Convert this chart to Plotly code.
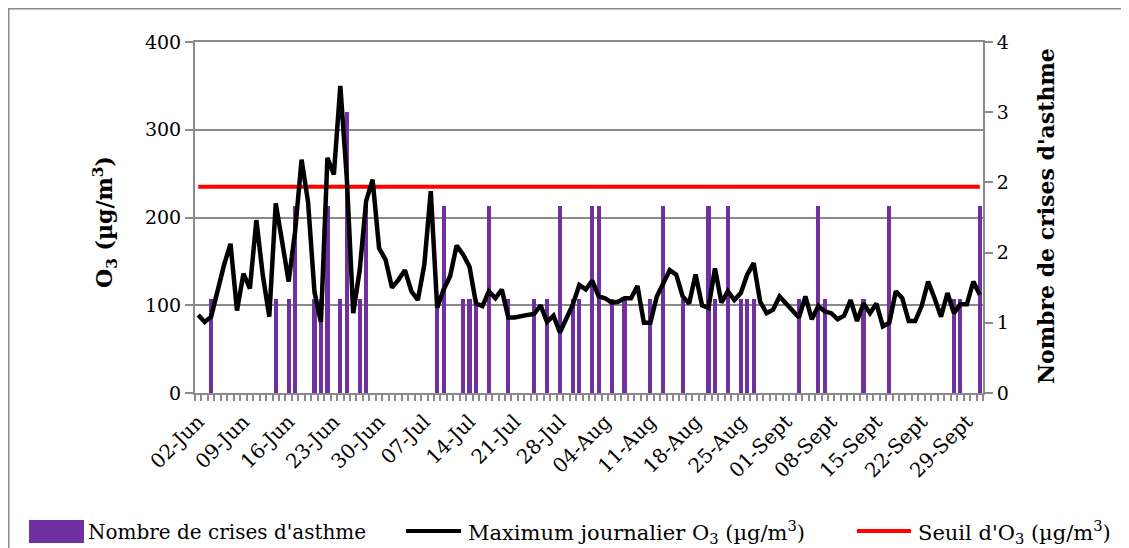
import plotly.graph_objects as go

# ---------------- data ----------------
TICK_LABELS = ['02-Jun', '09-Jun', '16-Jun', '23-Jun', '30-Jun', '07-Jul', '14-Jul',
               '21-Jul', '28-Jul', '04-Aug', '11-Aug', '18-Aug', '25-Aug', '01-Sept',
               '08-Sept', '15-Sept', '22-Sept', '29-Sept']
TICK_STEP = 7  # one label every 7 days

# Daily maximum O3 (µg/m3), 02-Jun .. 01-Oct
OZONE_MAX = [
    89, 81, 87, 119, 146, 170, 94, 136, 119, 197,
    134, 87, 216, 172, 127, 184, 266, 218, 115, 81,
    268, 249, 350, 245, 91, 140, 219, 243, 165, 152,
    120, 129, 140, 116, 106, 146, 230, 97, 118, 133,
    168, 158, 144, 102, 99, 116, 108, 118, 86, 86,
    88, 89, 90, 100, 81, 88, 69, 84, 101, 123,
    118, 128, 110, 108, 103, 104, 108, 108, 122, 80,
    80, 110, 125, 140, 135, 110, 102, 135, 100, 97,
    142, 103, 116, 106, 114, 135, 148, 104, 91, 95,
    110, 102, 93, 86, 110, 84, 99, 93, 91, 84,
    88, 106, 82, 102, 91, 102, 76, 80, 116, 108,
    82, 82, 99, 127, 108, 87, 114, 91, 101, 101,
    127, 112,
]

# Number of asthma attacks per day
CRISES = [
    0, 0, 1, 0, 0, 0, 0, 0, 0, 0,
    0, 0, 1, 0, 1, 2, 0, 0, 1, 1,
    2, 0, 1, 3, 0, 1, 2, 0, 0, 0,
    0, 0, 0, 0, 0, 0, 0, 1, 2, 0,
    0, 1, 1, 1, 0, 2, 0, 0, 1, 0,
    0, 0, 1, 0, 1, 0, 2, 0, 1, 1,
    0, 2, 2, 0, 1, 0, 1, 0, 0, 0,
    1, 0, 2, 0, 0, 1, 0, 0, 0, 2,
    1, 0, 2, 0, 1, 1, 1, 0, 0, 0,
    0, 0, 0, 1, 0, 0, 2, 1, 0, 0,
    0, 0, 0, 1, 0, 0, 0, 2, 0, 0,
    0, 0, 0, 0, 0, 0, 0, 1, 1, 0,
    0, 2,
]

THRESHOLD = 235  # Seuil d'O3 (µg/m3)

O3_TICKS = [0, 100, 200, 300, 400]
CRISES_MAX = 3.75
CRISES_TICKVALS = [0, 0.75, 1.5, 2.25, 3, 3.75]
CRISES_TICKTEXT = ['0', '1', '2', '2', '3', '4']

# ---------------- layout constants ----------------
W, H = 1129, 548
OFF = 8  # page body margin
# plot area in screen pixels
LS, RS, TS, BS = 195, 983, 42, 393
FONT = 'DejaVu Serif'
GRID = '#8a8a8a'
PURPLE = '#7030A0'


def px(x):
    return (x - LS) / (RS - LS)


def py(y):
    return (BS - y) / (BS - TS)


n = len(OZONE_MAX)
days = list(range(n))
threshold_series = [THRESHOLD] * n

fig = go.Figure()
fig.add_trace(go.Bar(
    x=days, y=CRISES, yaxis='y', width=0.65,
    marker=dict(color=PURPLE, line=dict(width=0)),
    name="Nombre de crises d'asthme",
))
fig.add_trace(go.Scatter(
    x=days, y=threshold_series, yaxis='y2', mode='lines',
    line=dict(color='#FF0000', width=4),
    name="Seuil d'O3 (µg/m3)",
))
fig.add_trace(go.Scatter(
    x=days, y=OZONE_MAX, yaxis='y2', mode='lines',
    line=dict(color='black', width=4.5),
    name='Maximum journalier O3 (µg/m3)',
))

o3_grid_in_crises = [v * CRISES_MAX / O3_TICKS[-1] for v in O3_TICKS[1:]]

fig.update_layout(
    width=W, height=H,
    margin=dict(l=LS - OFF, r=W - (RS - OFF), t=TS - OFF, b=H - (BS - OFF), pad=0),
    paper_bgcolor='white', plot_bgcolor='white',
    showlegend=False,
    bargap=0,
    font=dict(family=FONT, color='black'),
    xaxis=dict(
        range=[-0.5, n - 0.5],
        tickmode='array', tickvals=days[::TICK_STEP], ticktext=TICK_LABELS,
        tickangle=-45, ticks='', tickfont=dict(size=20, family=FONT),
        ticklabelstandoff=7,
        showline=True, linecolor=GRID, linewidth=2, mirror=True,
        showgrid=False, zeroline=False,
        minor=dict(tickmode='linear', tick0=-0.5, dtick=1, ticks='outside',
                   ticklen=6, tickwidth=2, tickcolor=GRID, showgrid=False),
    ),
    yaxis=dict(
        side='right', range=[0, CRISES_MAX],
        tickmode='array', tickvals=CRISES_TICKVALS, ticktext=CRISES_TICKTEXT,
        ticks='outside', ticklen=8, tickwidth=2, tickcolor=GRID,
        tickfont=dict(size=19, family=FONT),
        showline=True, linecolor=GRID, linewidth=2,
        showgrid=False, zeroline=False,
        minor=dict(tickmode='array', tickvals=o3_grid_in_crises, ticks='',
                   showgrid=True, gridcolor=GRID, gridwidth=2),
    ),
    yaxis2=dict(
        overlaying='y', side='left', anchor='x', range=[0, O3_TICKS[-1]],
        tickmode='array', tickvals=O3_TICKS,
        ticks='outside', ticklen=8, tickwidth=2, tickcolor=GRID,
        tickfont=dict(size=19, family=FONT),
        showline=True, linecolor=GRID, linewidth=2,
        showgrid=False, zeroline=False,
    ),
)

annotations = [
    dict(text='<b>O<sub>3</sub> (µg/m<sup>3</sup>)</b>', x=px(105), y=py(222),
         xref='paper', yref='paper', textangle=-90, showarrow=False,
         font=dict(size=22, family=FONT), xanchor='center', yanchor='middle'),
    dict(text="<b>Nombre de crises d'asthme</b>", x=px(1046), y=py(216),
         xref='paper', yref='paper', textangle=-90, showarrow=False,
         font=dict(size=22, family=FONT), xanchor='center', yanchor='middle'),
    dict(text="Nombre de crises d'asthme", x=px(86), y=py(532),
         xref='paper', yref='paper', showarrow=False, xanchor='left', yanchor='middle',
         font=dict(size=20, family=FONT)),
    dict(text='Maximum journalier O<sub>3</sub> (µg/m<sup>3</sup>)', x=px(466), y=py(532),
         xref='paper', yref='paper', showarrow=False, xanchor='left', yanchor='middle',
         font=dict(size=21, family=FONT)),
    dict(text="Seuil d'O<sub>3</sub> (µg/m<sup>3</sup>)", x=px(916), y=py(532),
         xref='paper', yref='paper', showarrow=False, xanchor='left', yanchor='middle',
         font=dict(size=21, family=FONT)),
]

shapes = [
    # chart-area border
    dict(type='rect', xref='paper', yref='paper', x0=px(OFF + 0.75), x1=px(1125),
         y0=py(580), y1=py(OFF + 0.75),
         line=dict(color=GRID, width=1.5), fillcolor='rgba(0,0,0,0)', layer='below'),
    # legend keys
    dict(type='rect', xref='paper', yref='paper', x0=px(29), x1=px(84), y0=py(543), y1=py(520),
         line=dict(width=0), fillcolor=PURPLE),
    dict(type='line', xref='paper', yref='paper', x0=px(406), x1=px(461), y0=py(531), y1=py(531),
         line=dict(color='black', width=4)),
    dict(type='line', xref='paper', yref='paper', x0=px(857), x1=px(911), y0=py(531), y1=py(531),
         line=dict(color='#FF0000', width=4)),
]

fig.update_layout(annotations=annotations, shapes=shapes)

fig.write_html('out.html')
